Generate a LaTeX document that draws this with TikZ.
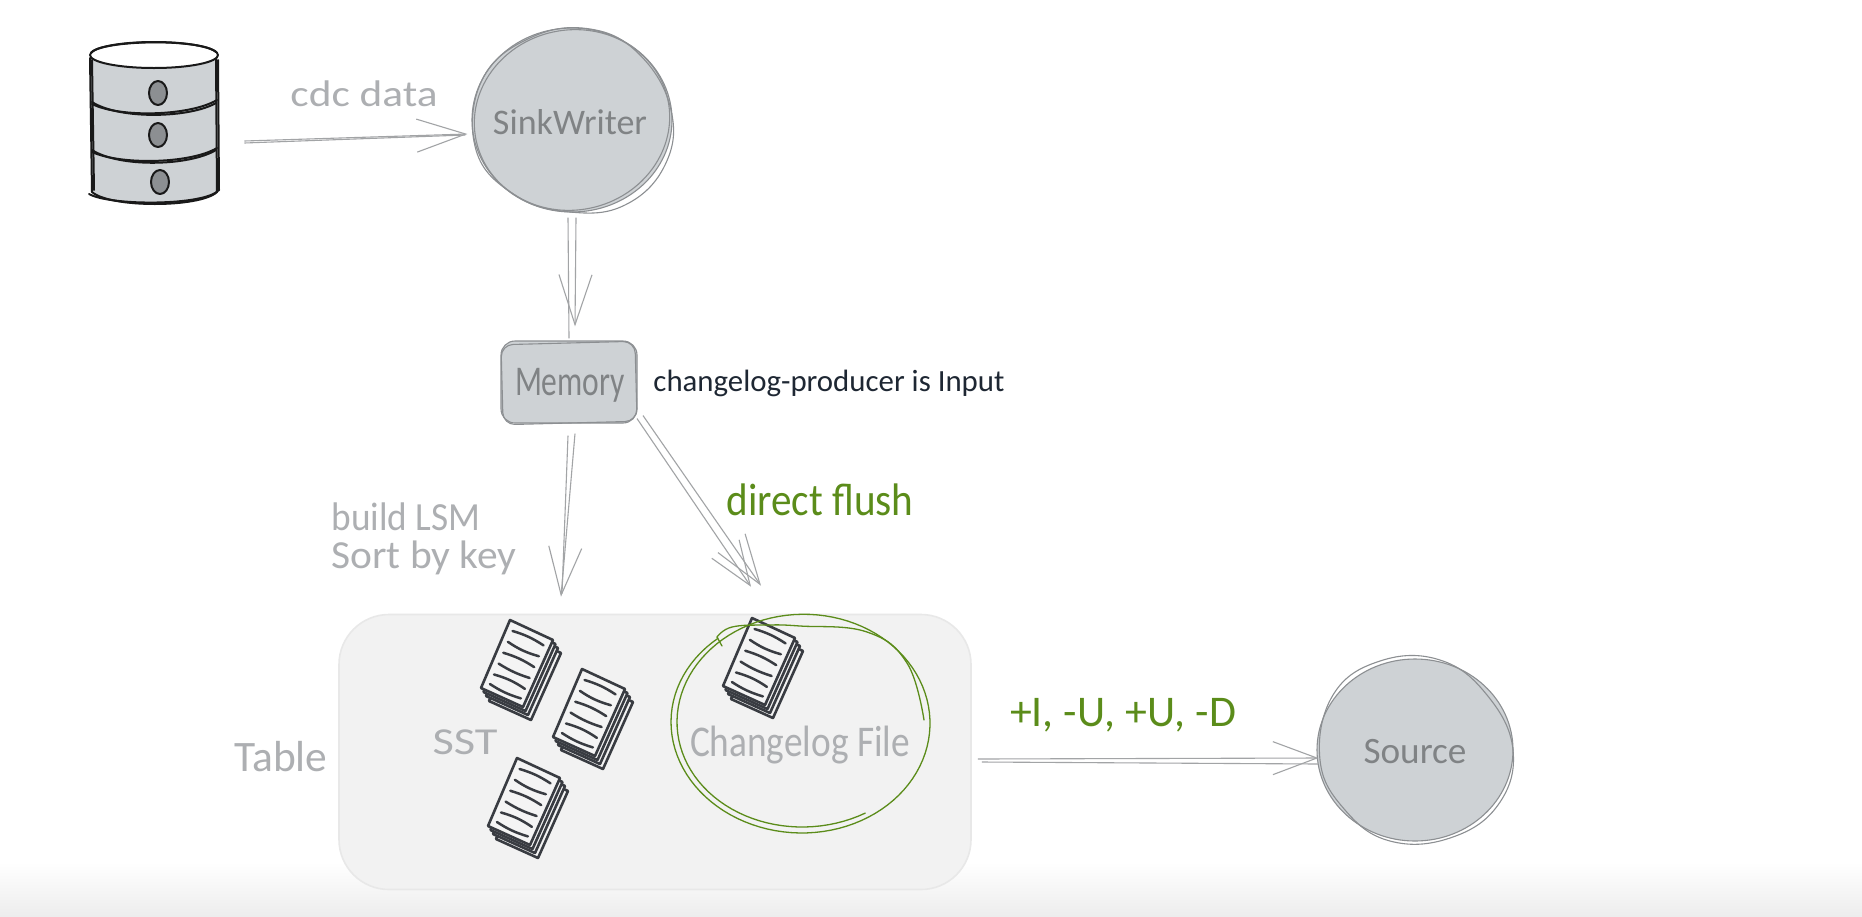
\documentclass[tikz,border=0pt]{standalone}
\usepackage{graphicx}
\usepackage{fontspec}
\setmainfont{Carlito}
\usetikzlibrary{arrows.meta,shapes.geometric,calc}
\definecolor{nodefill}{HTML}{CED2D5}
\definecolor{sketchgray}{HTML}{8C8F92}
\definecolor{linegray}{HTML}{A2A4A6}
\definecolor{textmid}{HTML}{808385}
\definecolor{textlight}{HTML}{ADAFB2}
\definecolor{inkdark}{HTML}{1E2733}
\definecolor{docdark}{HTML}{393C42}
\definecolor{paper}{HTML}{F4F4F4}
\definecolor{leaf}{HTML}{5B8C1A}
\definecolor{tablefill}{HTML}{F2F2F2}
\definecolor{tableedge}{HTML}{E8E8E8}
\newcommand{\wtxt}[2]{\resizebox{#1pt}{!}{#2}}
\newcommand{\hwtxt}[3]{\resizebox*{#1pt}{#2pt}{#3}}
\tikzset{
  x=0.5pt,y=-0.5pt,
  sketch/.style={draw=sketchgray,line width=0.55pt},
  roundbox/.style={ellipse,fill=nodefill,draw=sketchgray,line width=0.55pt,inner sep=0pt},
  lbl/.style={inner sep=0pt,anchor=center},
  conn/.style={draw=linegray,line width=0.55pt},
  barb/.style={-{Straight Barb[length=#1,width=16.5pt]}},
  ink/.style={draw=black!90,line width=1pt,line join=round,line cap=round},
  docedge/.style={draw=docdark,line width=1.3pt,line join=round},
  docline/.style={draw=docdark,line width=1.25pt,line cap=round},
  greenpen/.style={draw=leaf,line width=0.65pt,line cap=round},
  docstack/.pic={
    \foreach \dx/\dy in {8/13,5/8,2.5/4}{
      \draw[docedge,fill=paper] (-7+\dx,-50+\dy) -- (36+\dx,-30+\dy) -- (6+\dx,37+\dy) -- (-36+\dx,18+\dy) -- cycle;
    }
    \draw[docedge,fill=paper] (-7,-50) -- (36,-30) -- (6,37) -- (-36,18) -- cycle;
    \foreach \q/\b in {.12/8,.28/-9,.44/8,.6/-7,.76/9,.9/-8}{
      \draw[docline] ({-7+.14*43-29*\q},{-50+.14*20+68*\q}) to[bend left=\b] ({-7+.86*43-29*\q},{-50+.86*20+68*\q});
    }
  }
}
\begin{document}
\begin{tikzpicture}
\useasboundingbox (0,0) rectangle (1862,916);
\fill[white] (0,0) rectangle (1862,916);
\shade[top color=white,bottom color=black!7] (0,862) rectangle (1862,916);

% database
\node[minimum width=65pt,minimum height=81pt,inner sep=0pt] (db) at (154,123) {};
\fill[nodefill] (90,58) -- (92,192) .. controls (110,210) and (200,208) .. (217,192) -- (216,58) -- cycle;
\draw[ink] (90,58) -- (92,192) .. controls (110,208) and (200,208) .. (217,192) -- (216,58);
\draw[ink] (92,60) -- (94,190);
\draw[ink] (218,60) -- (219,190);
\draw[ink] (89,194) .. controls (110,206) and (205,206) .. (219,190);
\draw[ink,fill=white] (154,55) ellipse [x radius=64,y radius=13];
\draw[ink] (91,53) .. controls (100,40) and (200,38) .. (216,52);
\draw[ink] (92,102) .. controls (120,120) and (190,118) .. (216,103);
\draw[ink] (92,104) .. controls (120,118) and (190,116) .. (217,100);
\draw[ink] (92,150) .. controls (120,168) and (190,166) .. (216,150);
\draw[ink] (92,152) .. controls (120,165) and (190,164) .. (217,148);
\foreach \hx/\hy in {158/93,158/135,160/182}{
  \draw[ink,fill=sketchgray] (\hx,\hy) ellipse [x radius=9,y radius=12];
}

% sink writer
\node[roundbox,minimum width=100pt,minimum height=92pt] (sink) at (572,120) {};
\draw[sketch] plot[smooth cycle,tension=.7] coordinates {(482,80) (530,38) (590,29) (640,55) (671,110) (665,165) (625,205) (570,212) (515,195) (476,150)};
\draw[sketch] (sink.center) ellipse [x radius=98,y radius=90,rotate=12];
\node[lbl,text=textmid] (sinklabel) at (570,122) {\wtxt{77}{SinkWriter}};

% source
\node[roundbox,minimum width=98pt,minimum height=91pt] (source) at (1415,750) {};
\draw[sketch] plot[smooth cycle,tension=.7] coordinates {(1333,695) (1380,661) (1440,660) (1487,695) (1513,750) (1498,805) (1450,838) (1390,841) (1345,810) (1320,760)};
\node[lbl,text=textmid] (sourcelabel) at (1415,752) {\wtxt{51.5}{Source}};

% memory
\node[rounded corners=7pt,fill=nodefill,sketch,minimum width=68pt,minimum height=41pt,inner sep=0pt] (memory) at (569,382) {};
\draw[sketch,rounded corners=6pt,rotate around={1.5:(569,382)}] (502,343) rectangle (636,423);
\node[lbl,text=textmid] (memlabel) at (570,385) {\hwtxt{55}{17}{Memory}};
\node[lbl,text=inkdark] (note) at (829,383) {\wtxt{175.5}{changelog-producer is Input}};

% table
\node[rounded corners=25pt,fill=tablefill,draw=tableedge,line width=.8pt,minimum width=316pt,minimum height=137.5pt,inner sep=0pt] (table) at (655,752) {};
\node[lbl,text=textlight] (tablelabel) at (281,757) {\wtxt{46.5}{Table}};
\node[lbl,text=textlight] (sst) at (465,742) {\hwtxt{32.5}{12.5}{SST}};
\node[lbl,text=textlight] (clfile) at (800,745) {\hwtxt{110}{19}{Changelog File}};
\pic at (517,670) {docstack};
\pic at (589,719) {docstack};
\pic at (524,808) {docstack};
\pic at (759,668) {docstack};

% green circle
\draw[greenpen] plot[smooth,tension=.7] coordinates {(924,720) (907,663) (867,632) (800,626) (767,625) (732,627) (717,637)};
\draw[greenpen] (717,637) -- (722,646);
\draw[greenpen] plot[domain=230:-300,samples=150] ({802+(128+3*sin(0.5*\x))*cos(\x)},{722+(108+3*sin(0.5*\x+40))*sin(\x)});

% connectors
\coordinate (dbout) at ([shift={(25,18)}]db.east);
\coordinate (dbout2) at ([shift={(25,20)}]db.east);
\draw[conn,barb=24.5pt] (dbout) -- ([shift={(-4,14)}]sink.west);
\draw[conn] (dbout2) -- ([shift={(-6,15)}]sink.west);

\draw[conn,barb=25pt] ([shift={(4,5)}]sink.south) -- ([shift={(6,-14)}]memory.north);
\draw[conn] ([shift={(-4,5)}]sink.south) -- ([shift={(0,-2)}]memory.north);

\draw[conn,barb=24pt] ([shift={(6,10)}]memory.south) -- ([shift={(-94,-17)}]table.north);
\draw[conn] ([shift={(-1,12)}]memory.south) -- ([shift={(-93,-20)}]table.north);

\draw[conn,barb=25pt] ([shift={(74,-8)}]memory.south) -- ([shift={(106,-28)}]table.north);
\draw[conn,barb=22pt] ([shift={(68,-5)}]memory.south) -- ([shift={(96,-27)}]table.north);

\draw[conn,barb=22pt] ([shift={(6,7)}]table.east) -- ([shift={(2,8)}]source.west);
\draw[conn] ([shift={(10,10)}]table.east) -- ([shift={(2,14)}]source.west);

% connector labels
\node[lbl,text=textlight] (cdc) at (364,94) {\hwtxt{73.5}{13}{cdc data}};
\node[lbl,text=leaf] (flush) at (820,500) {\hwtxt{93.5}{16}{direct flush}};
\node[lbl,text=textlight] (build) at (406,517) {\hwtxt{74.5}{14}{build LSM}};
\node[lbl,text=textlight] (sortkey) at (424,558) {\hwtxt{92.5}{17}{Sort by key}};
\node[lbl,text=leaf] (ops) at (1123,715) {\wtxt{113}{+I, -U, +U, -D}};
\end{tikzpicture}
\end{document}
